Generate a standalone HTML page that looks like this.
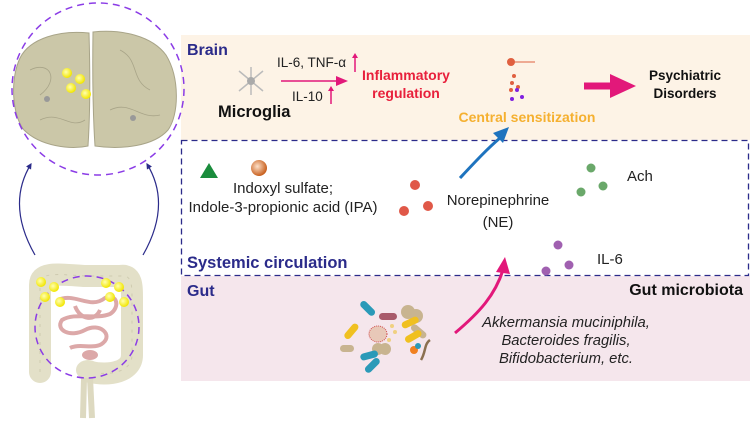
<!DOCTYPE html>
<html><head><meta charset="utf-8"><style>
html,body{margin:0;padding:0;background:#fff;width:750px;height:423px;overflow:hidden}
svg{display:block;font-family:"Liberation Sans",Arial,sans-serif}
</style></head><body>
<svg width="750" height="423" viewBox="0 0 750 423" xmlns="http://www.w3.org/2000/svg">
<defs>
<radialGradient id="yb" cx="40%" cy="40%" r="60%"><stop offset="0" stop-color="#ffffb0"/><stop offset="1" stop-color="#f2e600"/></radialGradient>
<radialGradient id="ob" cx="40%" cy="40%" r="60%"><stop offset="0" stop-color="#fde0c8"/><stop offset="1" stop-color="#c8601e"/></radialGradient>
<marker id="mk" viewBox="0 0 10 10" refX="8" refY="5" markerWidth="5" markerHeight="5" orient="auto"><path d="M0,0L10,5L0,10z" fill="#2b2b8a"/></marker>
</defs>
<!-- boxes -->
<rect x="181" y="35" width="569" height="105" fill="#fdf3e6"/>
<rect x="181" y="276" width="569" height="105" fill="#f5e6ec"/>
<rect x="181.5" y="140.5" width="567" height="135" fill="none" stroke="#2b2b8a" stroke-width="1.3" stroke-dasharray="6,4"/>
<text x="187" y="55" font-size="16" font-weight="bold" fill="#2b2b8a">Brain</text>
<text x="187" y="268" font-size="16.5" font-weight="bold" fill="#2b2b8a">Systemic circulation</text>
<text x="187" y="296" font-size="16" font-weight="bold" fill="#2b2b8a">Gut</text>
<!-- brain -->
<path d="M89,33 C60,30 30,38 20,58 C10,80 12,115 24,130 C40,146 70,150 88,146 Q91,100 89,33z" fill="#cbc7a8" stroke="#a8a488"/>
<path d="M93,32 C122,29 152,36 166,55 C180,78 179,115 168,130 C154,146 122,150 95,146 Q92,100 93,32z" fill="#cbc7a8" stroke="#a8a488"/>
<g stroke="#a8a488" fill="none" stroke-width="0.8"><path d="M30,70 C50,60 60,80 40,95"/><path d="M120,50 C140,60 130,80 150,90"/><path d="M110,110 C130,100 140,120 160,115"/><path d="M40,120 C60,110 70,130 85,120"/></g>
<ellipse cx="98" cy="89" rx="86" ry="86" fill="none" stroke="#8b3ce6" stroke-width="1.5" stroke-dasharray="7,5"/>
<circle cx="67" cy="73" r="5" fill="url(#yb)"/><circle cx="80" cy="79" r="5" fill="url(#yb)"/>
<circle cx="71" cy="88" r="5" fill="url(#yb)"/><circle cx="86" cy="94" r="5" fill="url(#yb)"/>
<circle cx="47" cy="99" r="3" fill="#999"/><circle cx="133" cy="118" r="3" fill="#999"/>
<path d="M35,255 C15,220 15,190 31,164" fill="none" stroke="#2b2b8a" stroke-width="1.2" marker-end="url(#mk)"/>
<path d="M143,255 C163,220 163,190 147,164" fill="none" stroke="#2b2b8a" stroke-width="1.2" marker-end="url(#mk)"/>
<!-- gut -->
<path d="M40,372 V285 C40,272 55,274 85,276 H120 C132,274 132,285 132,300 V355 C132,372 110,376 90,372" fill="none" stroke="#e3e0c8" stroke-width="22" stroke-linecap="round"/>
<path d="M40,372 V285 C40,272 55,274 85,276 H120 C132,274 132,285 132,300 V355 C132,372 110,376 90,372" fill="none" stroke="#cfcbb0" stroke-width="1" stroke-dasharray="3,6"/>
<ellipse cx="88" cy="370" rx="12" ry="10" fill="#e3e0c8"/>
<path d="M84,378 L83,418 M90,378 L92,418" stroke="#ddd9c0" stroke-width="6"/>
<g fill="none" stroke="#dca8a8" stroke-width="4"><path d="M58,300 C75,292 90,310 105,298 C118,293 120,308 110,314 C95,320 75,312 62,320 C55,330 70,338 85,330 C100,322 113,335 103,343 C95,350 80,343 70,348"/><path d="M75,306 C80,320 95,322 100,310"/></g>
<ellipse cx="90" cy="355" rx="8" ry="5" fill="#dca8a8"/>
<ellipse cx="87" cy="327" rx="52" ry="51" fill="none" stroke="#8b3ce6" stroke-width="1.5" stroke-dasharray="7,5"/>
<g fill="url(#yb)"><circle cx="41" cy="282" r="5"/><circle cx="54" cy="287" r="5"/><circle cx="45" cy="297" r="5"/><circle cx="60" cy="302" r="5"/><circle cx="106" cy="283" r="5"/><circle cx="119" cy="287" r="5"/><circle cx="110" cy="297" r="5"/><circle cx="124" cy="302" r="5"/></g>
<!-- brain row -->
<g stroke="#bbb" stroke-width="1.5" fill="none"><path d="M251,81 l-12,-10 M251,81 l12,-10 M251,81 l-12,10 M251,81 l12,10 M251,81 v-14 M251,81 v14"/></g>
<circle cx="251" cy="81" r="4" fill="#aaa"/>
<text x="218" y="117" font-size="16.5" font-weight="bold" fill="#111">Microglia</text>
<text x="277" y="67" font-size="13.5" fill="#222">IL-6, TNF-α</text>
<text x="292" y="101" font-size="13.5" fill="#222">IL-10</text>
<path d="M355,72 v-17" stroke="#e2187a" stroke-width="1.5"/><path d="M352,58 l3,-5 3,5" fill="#e2187a"/>
<path d="M331,104 v-16" stroke="#e2187a" stroke-width="1.5"/><path d="M328,91 l3,-5 3,5" fill="#e2187a"/>
<path d="M281,81 h58" stroke="#e2187a" stroke-width="1.5"/><path d="M336,76 l12,5 -12,5z" fill="#e2187a"/>
<text x="406" y="80" font-size="14" font-weight="bold" fill="#e8203c" text-anchor="middle">Inflammatory</text>
<text x="406" y="98" font-size="14" font-weight="bold" fill="#e8203c" text-anchor="middle">regulation</text>
<circle cx="511" cy="62" r="4" fill="#e06040"/><path d="M511,62 h24" stroke="#e06040"/>
<g fill="#e06040"><circle cx="514" cy="76" r="2"/><circle cx="512" cy="83" r="2"/><circle cx="518" cy="87" r="2"/><circle cx="511" cy="90" r="2"/></g>
<g fill="#8020e0"><circle cx="517" cy="90" r="2"/><circle cx="512" cy="99" r="2"/><circle cx="522" cy="97" r="2"/></g>
<text x="527" y="122" font-size="14" font-weight="bold" fill="#f5b030" text-anchor="middle">Central sensitization</text>
<path d="M584,86 h30" stroke="#e2187a" stroke-width="7"/><path d="M610,74 l26,12 -26,12z" fill="#e2187a"/>
<text x="685" y="80" font-size="13.5" font-weight="bold" fill="#111" text-anchor="middle">Psychiatric</text>
<text x="685" y="98" font-size="13.5" font-weight="bold" fill="#111" text-anchor="middle">Disorders</text>
<!-- circulation -->
<path d="M200,178 l9,-15 9,15z" fill="#1a8c3c"/>
<circle cx="259" cy="168" r="8" fill="url(#ob)"/>
<text x="283" y="193" font-size="15" fill="#222" text-anchor="middle">Indoxyl sulfate;</text>
<text x="283" y="212" font-size="15" fill="#222" text-anchor="middle">Indole-3-propionic acid (IPA)</text>
<g fill="#e05848"><circle cx="415" cy="185" r="5"/><circle cx="404" cy="211" r="5"/><circle cx="428" cy="206" r="5"/></g>
<path d="M460,178 C475,162 488,148 500,138" fill="none" stroke="#1e73be" stroke-width="3"/><path d="M493,133 l16,-6 -6,16z" fill="#1e73be"/>
<text x="498" y="205" font-size="15" fill="#222" text-anchor="middle">Norepinephrine</text>
<text x="498" y="227" font-size="15" fill="#222" text-anchor="middle">(NE)</text>
<g fill="#6aa86a"><circle cx="591" cy="168" r="4.5"/><circle cx="581" cy="192" r="4.5"/><circle cx="603" cy="186" r="4.5"/></g>
<text x="627" y="181" font-size="15" fill="#222">Ach</text>
<g fill="#a060b0"><circle cx="558" cy="245" r="4.5"/><circle cx="546" cy="271" r="4.5"/><circle cx="569" cy="265" r="4.5"/></g>
<text x="597" y="264" font-size="15" fill="#222">IL-6</text>
<path d="M455,333 C480,312 495,295 503,270" fill="none" stroke="#e2187a" stroke-width="3"/><path d="M496,272 l9,-15 5,17z" fill="#e2187a"/>
<!-- gut microbes -->
<g transform="translate(14 0)">
<rect x="345" y="305" width="18" height="7" rx="3.5" fill="#2a9ab8" transform="rotate(45 354 308)"/>
<rect x="365" y="313" width="18" height="7" rx="3.5" fill="#a85a6a"/>
<rect x="328" y="328" width="18" height="7" rx="3.5" fill="#f0c020" transform="rotate(-50 337 331)"/>
<ellipse cx="364" cy="334" rx="9" ry="8" fill="#e8c8b8" stroke="#d05050" stroke-dasharray="1,1"/>
<circle cx="375" cy="340" r="2" fill="#f0d080"/><circle cx="381" cy="332" r="2" fill="#f0d080"/><circle cx="378" cy="326" r="2" fill="#f0d080"/>
<circle cx="394" cy="312" r="7" fill="#c8b490"/><circle cx="402" cy="316" r="7" fill="#c8b490"/>
<rect x="387" y="319" width="18" height="7" rx="3.5" fill="#f0c020" transform="rotate(-25 396 322)"/>
<rect x="396" y="328" width="18" height="7" rx="3.5" fill="#c8b490" transform="rotate(40 405 331)"/>
<rect x="390" y="333" width="18" height="7" rx="3.5" fill="#f0c020" transform="rotate(-30 399 336)"/>
<circle cx="364" cy="349" r="6" fill="#c8b490"/><circle cx="371" cy="349" r="6" fill="#c8b490"/>
<rect x="346" y="352" width="18" height="7" rx="3.5" fill="#2a9ab8" transform="rotate(-15 355 355)"/>
<rect x="349" y="362" width="18" height="7" rx="3.5" fill="#2a9ab8" transform="rotate(-45 358 365)"/>
<rect x="326" y="345" width="14" height="7" rx="3.5" fill="#c8b490"/>
<circle cx="400" cy="350" r="4" fill="#f08020"/><circle cx="404" cy="346" r="3" fill="#2a9ab8"/>
<path d="M407,360 C412,352 410,344 416,340" stroke="#8b7050" stroke-width="2.5" fill="none"/>
</g>
<text x="743" y="295" font-size="16" font-weight="bold" fill="#111" text-anchor="end">Gut microbiota</text>
<text x="566" y="327" font-size="14.8" font-style="italic" fill="#222" text-anchor="middle">Akkermansia muciniphila,</text>
<text x="566" y="345" font-size="14.8" font-style="italic" fill="#222" text-anchor="middle">Bacteroides fragilis,</text>
<text x="566" y="363" font-size="14.8" font-style="italic" fill="#222" text-anchor="middle">Bifidobacterium, etc.</text>
</svg>
</body></html>
